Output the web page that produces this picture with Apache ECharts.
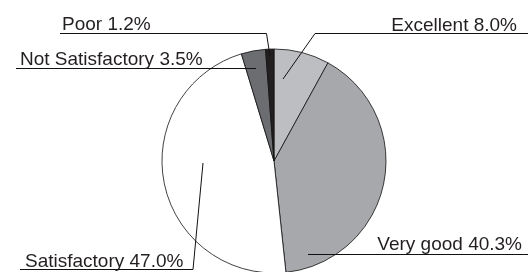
<!DOCTYPE html>
<html><head><meta charset="utf-8">
<script src="https://cdn.jsdelivr.net/npm/echarts@6/dist/echarts.min.js"></script>
<style>html,body{margin:0;padding:0;background:#fff}#c{width:528px;height:272px}</style>
</head><body><div id="c"></div>
<script>
// Data
const categories = ['Excellent', 'Very good', 'Satisfactory', 'Not Satisfactory', 'Poor'];
const values = [8.0, 40.3, 47.0, 3.5, 1.2];

// Styles
const colors = ['#bdbec1', '#a7a8ab', '#ffffff', '#6c6d70', '#231f20'];
// Label placement (text anchor + leader line path), layout only
const labelPlacement = [
  { x: 517, y: 25.5, align: 'right', line: [[283, 79], [315, 33.5], [528, 33.5]] },
  { x: 522, y: 244.5, align: 'right', line: [[308, 254.5], [420, 254.5], [528, 254.5]] },
  { x: 25, y: 261.5, align: 'left', line: [[203, 163], [193, 269.5], [20, 269.5]] },
  { x: 20, y: 60, align: 'left', line: [[256, 68.5], [140, 68.5], [16, 68.5]] },
  { x: 62, y: 25, align: 'left', line: [[270, 56], [266.5, 33.5], [60, 33.5]] }
];

const pieGeom = { center: [274, 161], radius: 112, startAngle: 90, clockwise: true };

const chart = echarts.init(document.getElementById('c'), null, { renderer: 'canvas' });
chart.setOption({
  animation: false,
  backgroundColor: '#fff',
  series: [{
    type: 'pie',
    z: 2,
    ...pieGeom,
    silent: true,
    data: categories.map((n, i) => ({
      name: n, value: values[i],
      itemStyle: { color: colors[i] }
    })),
    itemStyle: { borderColor: '#111', borderWidth: 0.8 },
    label: { show: false },
    labelLine: { show: false }
  }, {
    type: 'pie',
    z: 5,
    ...pieGeom,
    silent: true,
    avoidLabelOverlap: false,
    data: categories.map((n, i) => ({ name: n, value: values[i] })),
    itemStyle: { color: 'rgba(0,0,0,0)', borderWidth: 0 },
    label: {
      show: true,
      position: 'outside',
      formatter: p => p.name + ' ' + p.value.toFixed(1) + '%',
      fontFamily: 'Liberation Sans',
      fontSize: 19,
      color: '#231f20'
    },
    labelLine: {
      show: true,
      length: 10,
      length2: 10,
      lineStyle: { color: '#111', width: 1 }
    },
    labelLayout: function (params) {
      const p = labelPlacement[params.dataIndex];
      return {
        x: p.x, y: p.y, align: p.align, verticalAlign: 'middle',
        labelLinePoints: p.line
      };
    }
  }]
});
</script>
</body></html>
